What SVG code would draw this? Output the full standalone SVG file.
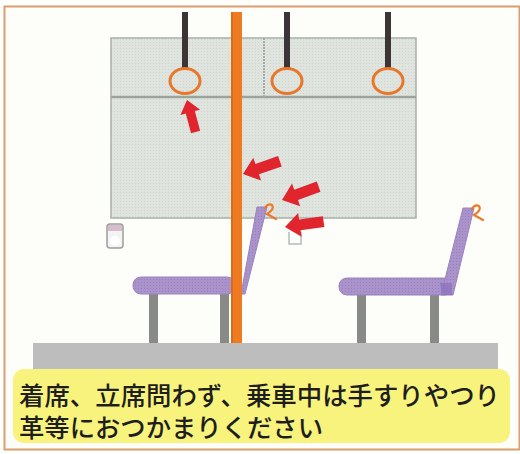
<svg xmlns="http://www.w3.org/2000/svg" width="520" height="454" viewBox="0 0 520 454">
  <style>
    .strap { fill: #3b3537; }
    .ring { fill: none; stroke: #e8772a; stroke-width: 3; }
    .arrow { fill: #e1252d; }
    .leg { fill: #888a88; }
    .hook { fill: none; stroke: #ec7a26; stroke-width: 2.2; stroke-linecap: round; stroke-linejoin: round; }
    .caption { font-family: "Noto Sans CJK JP", "Noto Sans", sans-serif; font-size: 25.5px; font-weight: 500; fill: #1e1e1e; }
  </style>
  <defs>
    <pattern id="mesh" width="3" height="3" patternUnits="userSpaceOnUse">
      <rect width="3" height="3" fill="#dfe4df"/>
      <rect width="1" height="1" fill="#cfd6cf"/>
    </pattern>
    <pattern id="purpleMesh" width="3" height="3" patternUnits="userSpaceOnUse">
      <rect width="3" height="3" fill="#a993ca"/>
      <rect width="1" height="1" fill="#9681bc"/>
    </pattern>
    <!-- arrow pointing left, tip at the origin -->
    <polygon id="redArrow" class="arrow" points="0,0 15,-12 15,-5.5 39,-5.5 39,5.5 15,5.5 15,12"/>
  </defs>

  <!-- background and frame -->
  <rect x="0" y="0" width="520" height="454" fill="#fdfdfa"/>
  <path d="M4.5,449.5 V6.5 H519.5 V449.5 Z" fill="none" stroke="#d99e72" stroke-width="2"/>

  <!-- window panel -->
  <g id="window">
    <rect x="111" y="38" width="305" height="180" fill="url(#mesh)" stroke="#a8b0a8" stroke-width="1.5"/>
    <line x1="111" y1="97" x2="416" y2="97" stroke="#9ba39b" stroke-width="2.5"/>
    <line x1="264" y1="38" x2="264" y2="97" stroke="#a3aba3" stroke-width="2" stroke-dasharray="2 1"/>
  </g>

  <!-- wall fittings -->
  <g id="fitting-left">
    <rect x="107" y="224" width="16" height="24" rx="3" fill="#f3f3f3" stroke="#9aa09a" stroke-width="1.5"/>
    <rect x="108" y="225" width="14" height="6" fill="#d9bccc"/>
    <ellipse cx="115" cy="241" rx="5" ry="5" fill="#ffffff"/>
  </g>
  <g id="fitting-right">
    <path d="M289,232 V244 H301 V232" fill="none" stroke="#b3bdbd" stroke-width="1.5"/>
  </g>

  <!-- hanging straps -->
  <g id="strap-1">
    <rect x="182" y="12" width="6" height="58" class="strap"/>
    <ellipse cx="185" cy="81" rx="15" ry="12.5" class="ring"/>
  </g>
  <g id="strap-2">
    <rect x="284" y="12" width="6" height="58" class="strap"/>
    <ellipse cx="287" cy="81" rx="15" ry="12.5" class="ring"/>
  </g>
  <g id="strap-3">
    <rect x="385" y="12" width="6" height="58" class="strap"/>
    <ellipse cx="388" cy="81" rx="15" ry="12.5" class="ring"/>
  </g>

  <!-- floor -->
  <g id="floor">
    <rect x="33" y="343" width="465" height="27" fill="#bdbdbd"/>
  </g>

  <!-- seat 1 -->
  <g id="seat-1">
    <rect x="149" y="292" width="9" height="51" class="leg"/>
    <rect x="220" y="292" width="9" height="51" class="leg"/>
    <rect x="133" y="277" width="102" height="17" rx="8" fill="url(#purpleMesh)" stroke="#9884bd" stroke-width="1"/>
    <polygon points="241,294 257,207 267,207 245,294" fill="url(#purpleMesh)" stroke="#9884bd" stroke-width="1"/>
    <path class="hook" d="M265,208 Q268,203 272,205 Q275,209 267,214 L276,219"/>
  </g>

  <!-- vertical pole -->
  <g id="pole">
    <rect x="231" y="12" width="11" height="331" fill="#ee7b22"/>
    <rect x="231" y="12" width="2" height="331" fill="#dc6c18"/>
  </g>

  <!-- seat 2 -->
  <g id="seat-2">
    <rect x="357" y="293" width="9" height="50" class="leg"/>
    <rect x="430" y="293" width="9" height="50" class="leg"/>
    <rect x="339" y="278" width="114" height="17" rx="8" fill="url(#purpleMesh)" stroke="#9884bd" stroke-width="1"/>
    <polygon points="441,295 463,208 474,208 453,295" fill="url(#purpleMesh)" stroke="#9884bd" stroke-width="1"/>
    <polygon points="440,283 452,283 452,295 442,295" fill="#8a6fbd" opacity="0.7"/>
    <path class="hook" d="M472,209 Q475,204 479,206 Q482,210 474,215 L483,220"/>
  </g>

  <!-- red pointer arrows -->
  <g id="connectors">
    <use href="#redArrow" transform="translate(187,100) rotate(75) scale(0.85)"/>
    <use href="#redArrow" transform="translate(243,174) rotate(-19)"/>
    <use href="#redArrow" transform="translate(282,200) rotate(-20)"/>
    <use href="#redArrow" transform="translate(285,227) rotate(-8)"/>
  </g>

  <!-- caption -->
  <g id="caption">
    <rect x="13" y="369" width="497" height="74" rx="11" fill="#f8f37c"/>
    <text class="caption" x="19" y="405" textLength="481" lengthAdjust="spacingAndGlyphs">着席、立席問わず、乗車中は手すりやつり</text>
    <text class="caption" x="19" y="437" textLength="304" lengthAdjust="spacingAndGlyphs">革等におつかまりください</text>
  </g>
</svg>
